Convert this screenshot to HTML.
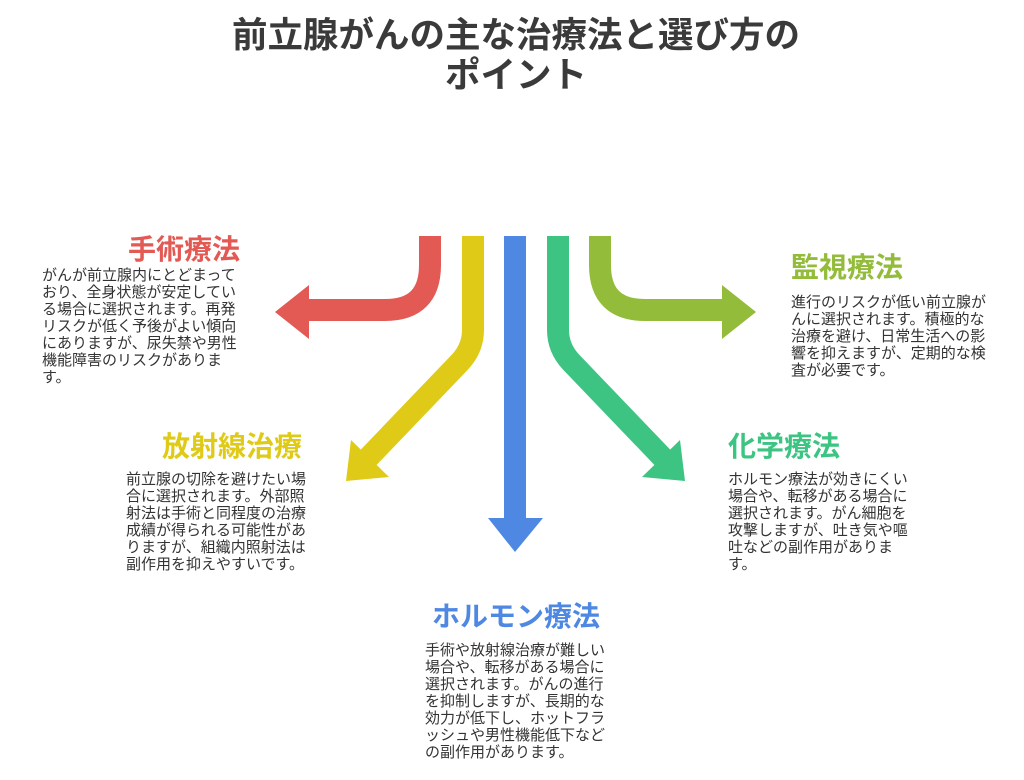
<!DOCTYPE html>
<html><head><meta charset="utf-8"><style>
body{margin:0;width:1024px;height:780px;background:#fff;position:relative;overflow:hidden;font-family:"Liberation Sans","Noto Sans CJK JP",sans-serif;color:#333}
.t{position:absolute;left:0;width:1032px;text-align:center;font-size:35.5px;font-weight:bold;color:#3a3a3a;line-height:40px;top:15px}
.h{position:absolute;font-size:28px;font-weight:bold;line-height:30px;white-space:nowrap}
.p{position:absolute;font-size:15px;line-height:17px;white-space:nowrap;color:#333}
</style></head><body>
<div class="t">前立腺がんの主な治療法と選び方の<br>ポイント</div>
<svg width="1024" height="780" style="position:absolute;left:0;top:0">
<g fill="none" stroke-width="22">
<path d="M430 236 V265 Q430 310 385 310 H305" stroke="#e35a55"/>
<path d="M473 236 V330 Q473 348 460 362 L368 458" stroke="#dfcb17"/>
<path d="M515 236 V520" stroke="#4f88e3"/>
<path d="M558 236 V330 Q558 348 571 362 L663 458" stroke="#3dc482"/>
<path d="M600 236 V265 Q600 310 645 310 H725" stroke="#93bc3a"/>
</g>
<polygon points="275,312 309,285 309,339" fill="#e35a55"/>
<polygon points="346,481 351,440 389,477" fill="#dfcb17"/>
<polygon points="515,552 488,518 543,518" fill="#4f88e3"/>
<polygon points="685,481 680,440 642,477" fill="#3dc482"/>
<polygon points="756,312 722,285 722,339" fill="#93bc3a"/>
</svg>
<div class="h" style="left:128px;top:235px;color:#e35a55">手術療法</div>
<div class="p" style="left:42px;top:267px">がんが前立腺内にとどまって<br>おり、全身状態が安定してい<br>る場合に選択されます。再発<br>リスクが低く予後がよい傾向<br>にありますが、尿失禁や男性<br>機能障害のリスクがありま<br>す。</div>
<div class="h" style="left:162px;top:432px;color:#dfcb17">放射線治療</div>
<div class="p" style="left:126px;top:471px">前立腺の切除を避けたい場<br>合に選択されます。外部照<br>射法は手術と同程度の治療<br>成績が得られる可能性があ<br>りますが、組織内照射法は<br>副作用を抑えやすいです。</div>
<div class="h" style="left:791px;top:253px;color:#93bc3a">監視療法</div>
<div class="p" style="left:791px;top:294px">進行のリスクが低い前立腺が<br>んに選択されます。積極的な<br>治療を避け、日常生活への影<br>響を抑えますが、定期的な検<br>査が必要です。</div>
<div class="h" style="left:728px;top:432px;color:#3dc482">化学療法</div>
<div class="p" style="left:728px;top:471px">ホルモン療法が効きにくい<br>場合や、転移がある場合に<br>選択されます。がん細胞を<br>攻撃しますが、吐き気や嘔<br>吐などの副作用がありま<br>す。</div>
<div class="h" style="left:432px;top:602px;color:#4f88e3">ホルモン療法</div>
<div class="p" style="left:425px;top:642px">手術や放射線治療が難しい<br>場合や、転移がある場合に<br>選択されます。がんの進行<br>を抑制しますが、長期的な<br>効力が低下し、ホットフラ<br>ッシュや男性機能低下など<br>の副作用があります。</div>
</body></html>
